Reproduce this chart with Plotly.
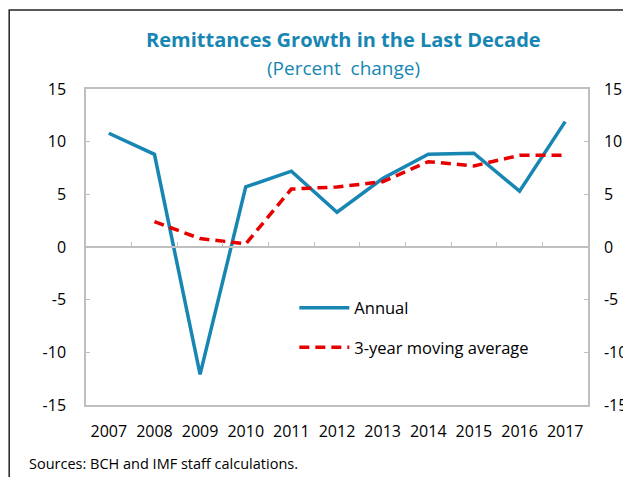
import plotly.graph_objects as go

years = ['2007', '2008', '2009', '2010', '2011', '2012', '2013', '2014', '2015', '2016', '2017']
annual = [10.8, 8.8, -12.1, 5.7, 7.2, 3.3, 6.5, 8.8, 8.9, 5.3, 11.9]
ma_years = ['2008', '2009', '2010', '2011', '2012', '2013', '2014', '2015', '2016', '2017']
moving_avg = [2.4, 0.8, 0.3, 5.5, 5.7, 6.2, 8.1, 7.7, 8.7, 8.7]
y_ticks = [-15, -10, -5, 0, 5, 10, 15]
y_labels = [str(v) for v in y_ticks]  # plain hyphen minus, as in the original

BLUE = '#1786b3'
RED = '#e60000'
GRID = '#bfbfbf'
FONT = 'Open Sans'

fig = go.Figure()

fig.add_trace(go.Scatter(
    x=years, y=annual, name='Annual', mode='lines',
    line=dict(color=BLUE, width=3.5),
    legendgroup='a', xaxis='x', yaxis='y'
))
# moving average sits on the overlay axes (x2 draws the zero line with ticks, y2 the right labels)
fig.add_trace(go.Scatter(
    x=ma_years, y=moving_avg, name='3-year moving average', mode='lines',
    line=dict(color=RED, width=3.5, dash='10px,6px'),
    legendgroup='b', xaxis='x2', yaxis='y2'
))

axis_font = dict(family=FONT, size=16, color='#000000')

# page has an 8px body margin; the figure runs to the window's right and bottom edges
fig.update_layout(
    width=623, height=469,
    margin=dict(l=78, r=43, t=81, b=72, autoexpand=False),
    paper_bgcolor='white', plot_bgcolor='white',
    font=axis_font,
    showlegend=True,
    legend=dict(
        x=0.415, y=0.362, xanchor='left', yanchor='top',
        bgcolor='rgba(0,0,0,0)', font=dict(family=FONT, size=16.5),
        tracegroupgap=15, itemwidth=50, traceorder='grouped'
    ),
    xaxis=dict(
        type='category', categoryorder='array', categoryarray=years,
        range=[-0.5, 10.5], showgrid=False, zeroline=False, automargin=False,
        showline=True, linecolor=GRID, linewidth=1.5, mirror=True,
        ticks='', ticklabelstandoff=11, tickfont=axis_font
    ),
    xaxis2=dict(
        type='category', categoryorder='array', categoryarray=years,
        range=[-0.5, 10.5], overlaying='x', anchor='free', position=0.5,
        showgrid=False, zeroline=False, automargin=False,
        showline=True, linecolor=GRID, linewidth=1.5,
        tickson='boundaries', ticks='inside', ticklen=4, tickcolor=GRID,
        showticklabels=False
    ),
    yaxis=dict(
        range=[-15, 15], tickmode='array', tickvals=y_ticks, ticktext=y_labels,
        showgrid=False, zeroline=False, automargin=False,
        showline=True, linecolor=GRID, linewidth=1.5,
        ticks='inside', ticklen=4, tickcolor=GRID,
        ticklabelstandoff=15, tickfont=axis_font
    ),
    yaxis2=dict(
        range=[-15, 15], tickmode='array', tickvals=y_ticks, ticktext=y_labels,
        overlaying='y', side='right', anchor='x2',
        showgrid=False, zeroline=False, automargin=False,
        showline=True, linecolor=GRID, linewidth=1.5,
        ticks='inside', ticklen=4, tickcolor=GRID,
        ticklabelstandoff=11, tickfont=axis_font
    ),
)

# title and subtitle
fig.add_annotation(
    text='<b>Remittances Growth in the Last Decade</b>',
    xref='paper', yref='paper', x=0.512, y=1.157, xanchor='center', yanchor='middle',
    showarrow=False, font=dict(family=FONT, size=20, color=BLUE)
)
fig.add_annotation(
    text='(Percent  change)',
    xref='paper', yref='paper', x=0.512, y=1.068, xanchor='center', yanchor='middle',
    showarrow=False, font=dict(family=FONT, size=19, color=BLUE)
)
# source note
fig.add_annotation(
    text='Sources: BCH and IMF staff calculations.',
    xref='paper', yref='paper', x=-0.117, y=-0.185, xanchor='left', yanchor='middle',
    showarrow=False, font=dict(family=FONT, size=14.5, color='#000000')
)

# outer frame of the exhibit
fig.add_shape(
    type='rect', xref='paper', yref='paper',
    x0=-0.153, x1=1.3, y0=-0.4, y1=1.25,
    line=dict(color='#222222', width=1.5), layer='below'
)

fig.write_html("out.html")
